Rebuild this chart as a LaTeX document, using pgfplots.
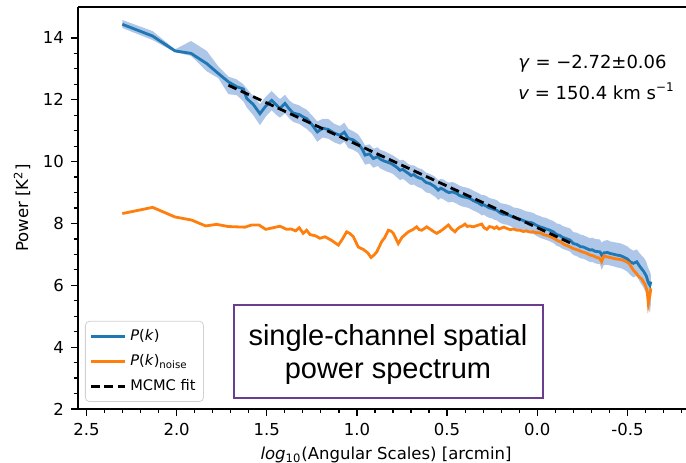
\documentclass[border=0pt]{standalone}
\usepackage{pgfplots}
\pgfplotsset{compat=1.18}
\usepackage{pgfplotstable}
\usepgfplotslibrary{fillbetween}
\usepackage{fontspec}
\setmainfont{DejaVu Sans}
\newfontfamily\boxfont{Liberation Sans}
\definecolor{tabblue}{HTML}{1F77B4}
\definecolor{taborange}{HTML}{FF7F0E}
\definecolor{bandblue}{HTML}{AEC7E8}
\definecolor{boxpurple}{HTML}{6A3D8F}

\pgfplotstableread{
x y lo hi
2.301 14.44 14.32 14.58
2.133 14.06 13.93 14.22
2.009 13.58 13.54 13.63
1.920 13.50 13.42 13.90
1.833 13.17 12.92 13.58
1.769 12.85 12.70 13.08
1.713 12.58 12.18 12.75
1.667 12.42 12.15 12.66
1.630 12.35 11.95 12.50
1.611 12.04 11.75 12.36
1.575 11.85 11.50 12.12
1.538 11.55 11.18 11.86
1.505 11.80 11.46 12.10
1.473 11.98 11.66 12.28
1.445 11.82 11.50 12.12
1.427 11.72 11.42 12.02
1.399 11.88 11.56 12.16
1.375 11.70 11.40 11.98
1.353 11.57 11.28 11.88
1.320 11.52 11.22 11.82
1.300 11.45 11.14 11.74
1.279 11.39 11.06 11.68
1.250 11.20 10.90 11.50
1.220 10.96 10.64 11.30
1.190 11.08 10.78 11.38
1.159 11.04 10.74 11.38
1.125 10.92 10.62 11.22
1.094 10.85 10.55 11.15
1.070 10.95 10.64 11.26
1.048 10.75 10.44 11.06
1.020 10.70 10.38 10.98
0.993 10.58 10.28 10.88
0.970 10.40 10.06 10.68
0.955 10.21 9.90 10.52
0.930 10.25 9.94 10.56
0.909 10.10 9.80 10.42
0.885 10.16 9.86 10.46
0.870 10.08 9.78 10.38
0.850 10.02 9.72 10.34
0.835 9.99 9.68 10.30
0.815 9.95 9.64 10.24
0.800 9.90 9.60 10.20
0.780 9.82 9.50 10.12
0.761 9.72 9.40 10.04
0.745 9.75 9.44 10.06
0.730 9.68 9.38 10.00
0.715 9.62 9.30 9.92
0.700 9.55 9.24 9.88
0.685 9.58 9.26 9.88
0.669 9.51 9.20 9.82
0.655 9.47 9.16 9.78
0.640 9.45 9.13 9.76
0.628 9.38 9.06 9.70
0.615 9.32 9.00 9.64
0.595 9.29 8.98 9.60
0.582 9.24 8.92 9.56
0.570 9.20 8.88 9.52
0.549 9.08 8.76 9.40
0.535 9.14 8.82 9.44
0.520 9.10 8.78 9.42
0.505 9.04 8.72 9.36
0.490 9.00 8.68 9.32
0.470 9.02 8.70 9.34
0.447 8.97 8.64 9.28
0.430 8.90 8.58 9.22
0.410 8.86 8.54 9.18
0.392 8.84 8.52 9.16
0.373 8.81 8.48 9.12
0.355 8.74 8.42 9.06
0.340 8.70 8.38 9.02
0.325 8.66 8.34 8.98
0.308 8.59 8.26 8.92
0.295 8.60 8.28 8.92
0.280 8.55 8.22 8.88
0.265 8.50 8.18 8.82
0.250 8.48 8.16 8.80
0.238 8.45 8.12 8.78
0.225 8.43 8.10 8.76
0.205 8.34 8.02 8.66
0.190 8.30 7.98 8.64
0.170 8.29 7.96 8.62
0.150 8.25 7.92 8.58
0.132 8.20 7.86 8.52
0.114 8.16 7.82 8.50
0.098 8.14 7.80 8.48
0.080 8.10 7.76 8.44
0.065 8.06 7.72 8.40
0.050 8.04 7.70 8.38
0.035 8.03 7.68 8.36
0.022 8.00 7.66 8.34
0.005 7.94 7.60 8.28
-0.015 7.89 7.54 8.24
-0.032 7.86 7.50 8.20
-0.050 7.82 7.47 8.18
-0.070 7.78 7.42 8.12
-0.089 7.73 7.37 8.08
-0.108 7.64 7.28 8.00
-0.125 7.61 7.24 7.98
-0.140 7.55 7.18 7.92
-0.160 7.51 7.14 7.88
-0.182 7.46 7.09 7.84
-0.200 7.35 6.98 7.72
-0.220 7.32 6.94 7.70
-0.240 7.25 6.87 7.64
-0.255 7.24 6.86 7.62
-0.270 7.20 6.82 7.58
-0.293 7.14 6.75 7.52
-0.305 7.15 6.76 7.54
-0.320 7.10 6.71 7.50
-0.348 7.08 6.68 7.48
-0.357 6.98 6.50 7.38
-0.370 7.05 6.66 7.44
-0.390 7.06 6.66 7.46
-0.404 7.03 6.64 7.42
-0.420 7.01 6.62 7.40
-0.440 6.98 6.58 7.38
-0.460 6.96 6.56 7.36
-0.477 6.92 6.52 7.32
-0.500 6.85 6.44 7.26
-0.515 6.76 6.34 7.18
-0.533 6.71 6.26 7.12
-0.552 6.76 6.30 7.16
-0.570 6.60 6.10 7.02
-0.590 6.45 5.92 6.90
-0.605 6.30 5.72 6.76
-0.615 6.10 5.28 6.56
-0.625 6.00 5.12 6.45
-0.630 6.12 5.38 6.34
}\bluedata

\pgfplotstableread{
x y
2.301 8.32
2.133 8.52
2.009 8.21
1.917 8.11
1.839 7.92
1.778 7.97
1.713 7.90
1.621 7.88
1.584 7.95
1.543 7.95
1.506 7.81
1.427 7.91
1.390 7.81
1.365 7.82
1.340 7.76
1.320 7.86
1.298 7.68
1.279 7.78
1.260 7.64
1.230 7.60
1.205 7.52
1.177 7.57
1.140 7.45
1.103 7.30
1.080 7.50
1.057 7.73
1.040 7.68
1.020 7.57
0.993 7.24
0.965 7.16
0.940 7.05
0.922 6.90
0.905 6.98
0.890 7.08
0.863 7.41
0.845 7.55
0.826 7.78
0.810 7.75
0.798 7.68
0.771 7.35
0.750 7.55
0.715 7.73
0.690 7.80
0.669 7.89
0.655 7.80
0.641 7.78
0.625 7.84
0.613 7.89
0.590 7.80
0.575 7.74
0.558 7.68
0.540 7.74
0.525 7.80
0.508 7.88
0.493 7.95
0.475 7.82
0.456 7.73
0.443 7.82
0.430 7.88
0.415 7.92
0.401 7.98
0.388 7.90
0.375 7.92
0.355 7.89
0.330 7.94
0.308 7.98
0.295 7.86
0.280 7.81
0.265 7.90
0.250 7.88
0.238 7.84
0.225 7.89
0.212 7.82
0.200 7.85
0.185 7.88
0.169 7.84
0.150 7.80
0.130 7.82
0.112 7.78
0.096 7.78
0.078 7.74
0.060 7.76
0.040 7.72
0.022 7.73
0.003 7.70
-0.015 7.70
-0.035 7.64
-0.061 7.60
-0.085 7.54
-0.108 7.46
-0.130 7.40
-0.150 7.32
-0.175 7.26
-0.200 7.19
-0.225 7.14
-0.250 7.08
-0.272 7.04
-0.293 6.98
-0.312 6.95
-0.330 6.90
-0.345 6.88
-0.357 6.76
-0.370 6.95
-0.385 6.92
-0.405 6.90
-0.430 6.86
-0.455 6.84
-0.477 6.81
-0.495 6.76
-0.510 6.70
-0.533 6.49
-0.548 6.40
-0.560 6.30
-0.580 6.20
-0.600 6.00
-0.610 5.80
-0.616 5.41
-0.625 5.68
-0.630 5.90
}\orangedata

\begin{document}
\begin{tikzpicture}
\begin{axis}[
  scale only axis,
  width=304pt, height=201pt,
  x dir=reverse,
  xmin=-0.825, xmax=2.547,
  ymin=2, ymax=15,
  axis x line*=box, axis y line*=left,
  x axis line style={-}, y axis line style={-},
  axis line style={line width=0.9pt},
  xtick pos=left,
  tick align=outside,
  major tick length=3.5pt, minor tick length=2pt,
  every tick/.style={black, line width=0.6pt},
  xtick={2.5,2.0,1.5,1.0,0.5,0.0,-0.5},
  xticklabels={2.5,2.0,1.5,1.0,0.5,0.0,-0.5},
  minor xtick={2.4,2.3,2.2,2.1,1.9,1.8,1.7,1.6,1.4,1.3,1.2,1.1,0.9,0.8,0.7,0.6,0.4,0.3,0.2,0.1,-0.1,-0.2,-0.3,-0.4,-0.6,-0.7,-0.8},
  ytick={2,4,6,8,10,12,14},
  minor y tick num=3,
  /pgf/number format/assume math mode=true,
  tick label style={font=\fontsize{8.25}{10}\selectfont},
  xlabel={\textit{log}\textsubscript{10}(Angular Scales) [arcmin]},
  ylabel={Power [K\textsuperscript{2}]},
  label style={font=\fontsize{8.25}{10}\selectfont},
  xlabel style={at={(axis description cs:0.5066,0)}, anchor=center, yshift=-23pt},
  ylabel style={at={(axis description cs:-0.092,0.5)}, anchor=center},
  legend style={at={(axis description cs:0,0)}, anchor=south west, xshift=3.5pt, yshift=3.5pt,
    draw=black!18, rounded corners=2pt, fill=white,
    font=\fontsize{7.3}{9}\selectfont, row sep=1.5pt, inner sep=2pt},
  legend cell align=left,
]
\addplot[draw=none, name path=hi, forget plot] table[x=x, y=hi] {\bluedata};
\addplot[draw=none, name path=lo, forget plot] table[x=x, y=lo] {\bluedata};
\addplot[fill=bandblue, draw=none, forget plot] fill between[of=hi and lo];
\addplot[tabblue, line width=1.4pt] table[x=x, y=y] {\bluedata};
\addlegendentry{\textit{P}(\textit{k})}
\addplot[taborange, line width=1.4pt] table[x=x, y=y] {\orangedata};
\addlegendentry{\textit{P}(\textit{k})\textsubscript{noise}}
\addplot[black, line width=1.4pt, dash pattern=on 4.5pt off 2.3pt] coordinates {(1.713,12.47) (-0.191,7.35)};
\addlegendentry{MCMC fit}

\node[anchor=base west, font=\fontsize{9}{11}\selectfont, inner sep=0pt] at (axis cs:0.107,13.01) {\textit{γ} = −2.72±0.06};
\node[anchor=base west, font=\fontsize{9}{11}\selectfont, inner sep=0pt] at (axis cs:0.107,12.01) {\textit{v} = 150.4 km s\textsuperscript{−1}};

\draw[boxpurple, line width=1.1pt, fill=white] (axis cs:1.682,2.36) rectangle (axis cs:-0.032,5.36);
\node[align=center, font=\boxfont\fontsize{14.5}{16.5}\selectfont] at (axis cs:0.828,3.76) {single-channel spatial\\power spectrum};
\end{axis}
\pgfresetboundingbox
\path ([xshift=-39pt,yshift=-27pt]current axis.south west) rectangle ([yshift=3.5pt]current axis.north east);
\end{tikzpicture}
\end{document}
